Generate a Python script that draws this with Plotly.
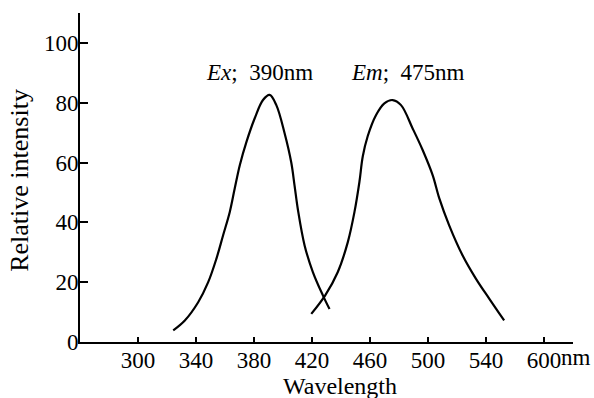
import plotly.graph_objects as go

# Excitation spectrum (Ex)
ex_wavelength = [324.3, 332.3, 341.5, 348.4, 354.1, 358.7, 363.3, 366.7, 370.2, 374.8, 380.5, 386.2, 390.8,
                 395.4, 401.1, 405.7, 408.0, 410.3, 414.9, 420.6, 427.5, 432.1]
ex_intensity = [3.9, 7.2, 13.3, 20.0, 27.9, 35.7, 43.5, 51.3, 59.1, 66.9, 74.8, 80.9, 82.6,
                79.2, 69.8, 60.0, 52.2, 44.2, 32.3, 23.4, 15.6, 11.0]

# Emission spectrum (Em)
em_wavelength = [419.5, 429.1, 437.8, 444.7, 449.3, 452.7, 455.0, 458.4, 464.2, 469.9, 475.6,
                 481.4, 489.4, 496.3, 503.2, 507.8, 514.6, 523.8, 533.0, 542.2, 552.5]
em_intensity = [9.4, 15.6, 23.4, 33.4, 43.5, 53.5, 62.0, 68.8, 75.9, 79.8, 80.9,
                79.2, 71.4, 64.2, 55.8, 48.0, 39.0, 29.0, 21.2, 14.5, 7.2]

x_tickvals = [300, 340, 380, 420, 460, 500, 540, 580]
x_ticktext = ["300", "340", "380", "420", "460", "500", "540", "600"]
y_tickvals = [0, 20, 40, 60, 80, 100]
y_ticktext = ["0", "20", "40", "60", "80", "100"]

FONT = "Liberation Serif"

fig = go.Figure()
for xs, ys in ((ex_wavelength, ex_intensity), (em_wavelength, em_intensity)):
    fig.add_trace(go.Scatter(x=xs, y=ys, mode="lines",
                             line=dict(color="black", width=2.2, shape="spline", smoothing=1.0),
                             showlegend=False))

fig.update_layout(
    width=594, height=398,
    margin=dict(l=80, r=21, t=13, b=56),
    paper_bgcolor="white", plot_bgcolor="white",
    font=dict(family=FONT, color="black", size=23),
    xaxis=dict(range=[260, 600], showgrid=False, zeroline=False,
               showline=True, linecolor="black", linewidth=2,
               ticks="inside", ticklen=5, tickwidth=1.5, tickcolor="black",
               tickvals=x_tickvals, ticktext=x_ticktext, ticklabelstandoff=-4,
               tickfont=dict(family=FONT, size=23)),
    yaxis=dict(range=[0, 110], showgrid=False, zeroline=False,
               showline=True, linecolor="black", linewidth=2,
               ticks="inside", ticklen=8, tickwidth=1.5, tickcolor="black",
               tickvals=y_tickvals, ticktext=y_ticktext, ticklabelstandoff=-5,
               tickfont=dict(family=FONT, size=23)),
    annotations=[
        dict(text="<i>Ex</i>;  390nm", x=384, y=90, xref="x", yref="y",
             showarrow=False, font=dict(family=FONT, size=23)),
        dict(text="<i>Em</i>;  475nm", x=486, y=90, xref="x", yref="y",
             showarrow=False, font=dict(family=FONT, size=23)),
        dict(text="nm", x=580, y=0, xref="x", yref="paper", xanchor="left",
             yanchor="middle", xshift=15, yshift=-15, showarrow=False,
             font=dict(family=FONT, size=23)),
        dict(text="Wavelength", x=0.527, y=0, xref="paper", yref="paper",
             yanchor="middle", yshift=-44, showarrow=False,
             font=dict(family=FONT, size=24)),
        dict(text="Relative intensity", x=0, y=0.49, xref="paper", yref="paper",
             xanchor="center", xshift=-60, textangle=-90, showarrow=False,
             font=dict(family=FONT, size=26)),
    ],
)

fig.write_html("out.html",
               config={"displayModeBar": False},
               post_script="document.body.style.margin='0px';document.body.style.overflow='hidden';")
